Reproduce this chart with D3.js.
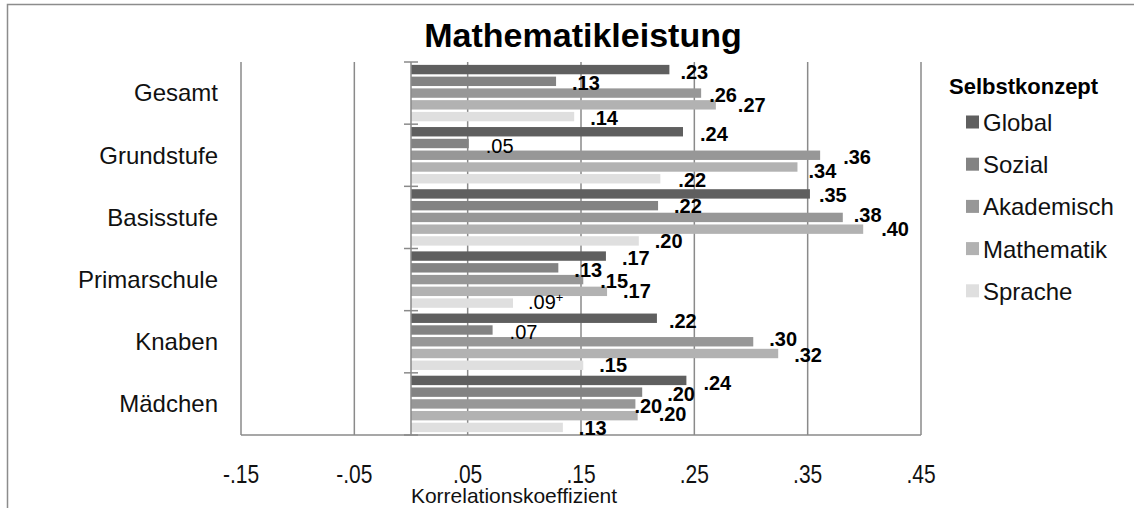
<!DOCTYPE html>
<html>
<head>
<meta charset="utf-8">
<script src="https://cdn.jsdelivr.net/npm/d3@7"></script>
<style>
  html, body { margin: 0; padding: 0; background: #fff; }
  svg { display: block; font-family: "Liberation Sans", Arial, sans-serif; }
</style>
</head>
<body>
<svg id="chart" width="1134" height="508"></svg>
<script>
// Correlation of self-concept facets with maths performance, by group
const groups = ["Gesamt", "Grundstufe", "Basisstufe", "Primarschule", "Knaben", "Mädchen"];
const facets = ["Global", "Sozial", "Akademisch", "Mathematik", "Sprache"];

const global     = [0.228, 0.240, 0.352, 0.172, 0.217, 0.243];
const sozial     = [0.128, 0.051, 0.218, 0.130, 0.072, 0.204];
const akademisch = [0.256, 0.361, 0.381, 0.152, 0.302, 0.198];
const mathematik = [0.269, 0.341, 0.399, 0.173, 0.324, 0.200];
const sprache    = [0.144, 0.220, 0.201, 0.090, 0.152, 0.134];

// non-significant coefficients are printed in regular weight
const significant = [
  [true, true, true, true, true],
  [true, false, true, true, true],
  [true, true, true, true, true],
  [true, true, true, true, false],
  [true, false, true, true, true],
  [true, true, true, true, true]
];
// "+" marks a coefficient significant at the 10% level only
const marginal = [
  [false, false, false, false, false],
  [false, false, false, false, false],
  [false, false, false, false, false],
  [false, false, false, false, true],
  [false, false, false, false, false],
  [false, false, false, false, false]
];

const xTicks = [-0.15, -0.05, 0.05, 0.15, 0.25, 0.35, 0.45];
const xTickLabels = ["-.15", "-.05", ".05", ".15", ".25", ".35", ".45"];

// hand-placed value labels: horizontal gap after the bar end and vertical nudge (px)
const labelDx = [
  [11, 16, 8, 22, 16],
  [17, 17, 23, 11, 18],
  [9, 16, 11, 18, 16],
  [16, 16, 17, 16, 15],
  [12, 17, 16, 16, 16],
  [17, 25, -1, 21, 16]
];
const labelDy = [
  [2.4, 1.6, 1.4, 0, 1],
  [1.7, 2.5, 1.2, 3.5, 1],
  [1, 0.4, -2.4, 0, 0],
  [1.4, 1.7, 0.9, -0.8, -1],
  [2.7, 1.5, -3.3, 1, 0],
  [2.5, 1.3, 2, -2.2, 0.5]
];

const seriesValues = [global, sozial, akademisch, mathematik, sprache];
const colors = ["#5f5f5f", "#838383", "#979797", "#b2b2b2", "#dfdfdf"];

const svg = d3.select("#chart");
const gridColor = "#8a8a8a";

// outer frame
svg.append("rect")
  .attr("x", 7.5).attr("y", 4.5)
  .attr("width", 1300).attr("height", 700)
  .attr("fill", "none").attr("stroke", "#8c8c8c").attr("stroke-width", 1.5);

const x = d3.scaleLinear().domain([-0.15, 0.45]).range([241, 921]);
const y = d3.scaleBand().domain(groups).range([62, 435]).paddingInner(0).paddingOuter(0);
const yInner = d3.scaleBand().domain(facets).range([0, y.bandwidth()])
  .paddingInner(0.2).paddingOuter(0.245);

// vertical gridlines
svg.append("g").selectAll("line").data(xTicks).join("line")
  .attr("x1", d => x(d)).attr("x2", d => x(d))
  .attr("y1", y.range()[0]).attr("y2", y.range()[1])
  .attr("stroke", gridColor).attr("stroke-width", 1.5);

// bottom edge of plot area
svg.append("line")
  .attr("x1", x(-0.15)).attr("x2", x(0.45))
  .attr("y1", y.range()[1]).attr("y2", y.range()[1])
  .attr("stroke", gridColor).attr("stroke-width", 1.5);

// bars
const cells = [];
groups.forEach((g, gi) => facets.forEach((f, fi) => {
  cells.push({ g, f, gi, fi, v: seriesValues[fi][gi] });
}));

svg.append("g").selectAll("rect").data(cells).join("rect")
  .attr("x", d => x(Math.min(0, d.v)))
  .attr("y", d => y(d.g) + yInner(d.f))
  .attr("width", d => Math.abs(x(d.v) - x(0)))
  .attr("height", yInner.bandwidth())
  .attr("fill", d => colors[d.fi]);

// category axis at zero, with tick marks between groups
svg.append("line")
  .attr("x1", x(0)).attr("x2", x(0))
  .attr("y1", y.range()[0]).attr("y2", y.range()[1])
  .attr("stroke", gridColor).attr("stroke-width", 1.5);
const boundaries = groups.map(g => y(g)).concat([y.range()[1]]);
svg.append("g").selectAll("line").data(boundaries).join("line")
  .attr("x1", x(0) - 7).attr("x2", x(0) + 7)
  .attr("y1", d => d).attr("y2", d => d)
  .attr("stroke", gridColor).attr("stroke-width", 1.5);

// category labels
svg.append("g").selectAll("text").data(groups).join("text")
  .attr("x", 218)
  .attr("y", d => y(d) + y.bandwidth() / 2)
  .attr("dy", "0.35em")
  .attr("text-anchor", "end")
  .attr("font-size", 24)
  .attr("fill", "#111")
  .text(d => d);

// value labels
const fmt = v => d3.format(".2f")(v).replace(/^(-?)0\./, "$1.");
const labels = svg.append("g").selectAll("text").data(cells).join("text")
  .attr("x", d => x(d.v) + labelDx[d.gi][d.fi])
  .attr("y", d => y(d.g) + yInner(d.f) + yInner.bandwidth() / 2 + labelDy[d.gi][d.fi])
  .attr("dy", "0.36em")
  .attr("font-size", 20)
  .attr("font-weight", d => significant[d.gi][d.fi] ? "bold" : "normal")
  .attr("fill", "#000")
  .text(d => fmt(d.v));
labels.filter(d => marginal[d.gi][d.fi])
  .append("tspan")
  .attr("dy", "-0.55em")
  .attr("font-size", 13)
  .text("+");

// x tick labels (slightly tall lettering)
const xAxis = d3.axisBottom(x).tickValues(xTicks)
  .tickFormat((d, i) => xTickLabels[i]).tickSize(0).tickPadding(0);
const xg = svg.append("g").call(xAxis);
xg.select(".domain").remove();
xg.selectAll(".tick").attr("transform", d => `translate(${x(d)},474) scale(1,1.2)`);
xg.selectAll("text")
  .attr("y", 0)
  .attr("dy", "0.36em")
  .attr("font-size", 21)
  .attr("font-family", "Liberation Sans, Arial, sans-serif")
  .attr("fill", "#111");

// axis title
svg.append("text")
  .attr("x", 514).attr("y", 503)
  .attr("text-anchor", "middle")
  .attr("font-size", 21)
  .attr("fill", "#111")
  .text("Korrelationskoeffizient");

// chart title
svg.append("text")
  .attr("x", 583).attr("y", 47)
  .attr("text-anchor", "middle")
  .attr("font-size", 34)
  .attr("font-weight", "bold")
  .attr("fill", "#000")
  .text("Mathematikleistung");

// legend
const legend = svg.append("g");
legend.append("text")
  .attr("x", 949).attr("y", 94)
  .attr("font-size", 22)
  .attr("font-weight", "bold")
  .attr("fill", "#000")
  .text("Selbstkonzept");
const items = legend.selectAll("g.item").data(facets).join("g")
  .attr("class", "item")
  .attr("transform", (d, i) => `translate(0,${122.5 + i * 42.2})`);
items.append("rect")
  .attr("x", 966).attr("y", -7)
  .attr("width", 13).attr("height", 13)
  .attr("fill", (d, i) => colors[i]);
items.append("text")
  .attr("x", 983).attr("y", 0)
  .attr("dy", "0.35em")
  .attr("font-size", 24)
  .attr("fill", "#111")
  .text(d => d);
</script>
</body>
</html>
